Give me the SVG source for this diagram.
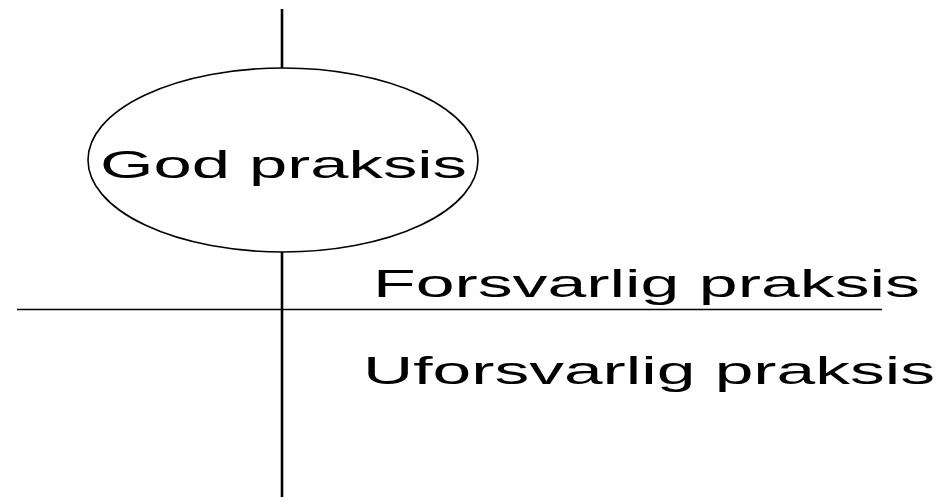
<svg xmlns="http://www.w3.org/2000/svg" width="945" height="502" viewBox="0 0 945 502">
<style>
.ln{stroke:#000;fill:none}
.el{stroke:#000;fill:#fff}
.t{font-family:"Liberation Sans",Arial,sans-serif;fill:#000;font-size:39px}
</style>
<rect width="945" height="502" fill="#fff"/>
<g id="connectors">
<line class="ln" x1="282" y1="9" x2="282" y2="497" stroke-width="2.6"/>
<line class="ln" x1="17" y1="309.5" x2="882" y2="309.5" stroke-width="1.6"/>
</g>
<g id="god">
<ellipse class="el" cx="283" cy="160" rx="195" ry="92" stroke-width="1.6"/>
<text class="t" x="100" y="178" font-size="42" textLength="367" lengthAdjust="spacingAndGlyphs">God praksis</text>
</g>
<g id="forsvarlig">
<text class="t" x="373" y="297" textLength="547" lengthAdjust="spacingAndGlyphs">Forsvarlig praksis</text>
</g>
<g id="uforsvarlig">
<text class="t" x="363" y="384" textLength="572" lengthAdjust="spacingAndGlyphs">Uforsvarlig praksis</text>
</g>
</svg>
